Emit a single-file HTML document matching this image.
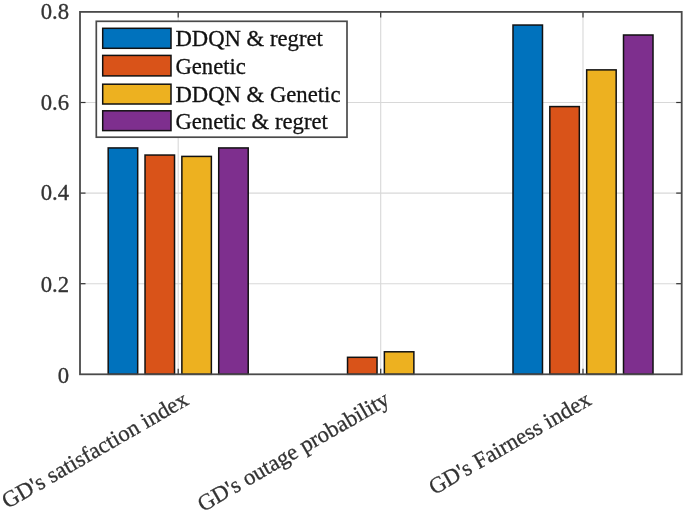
<!DOCTYPE html><html><head><meta charset="utf-8"><style>html,body{margin:0;padding:0;background:#fff}svg{display:block;filter:blur(0.55px)}text{font-family:"Liberation Serif",serif;fill:#111;stroke:#111;stroke-width:0.3px}text.t{fill:#333;stroke:#333;stroke-width:0.3px}</style></head><body>
<svg width="685" height="512" viewBox="0 0 685 512">
<rect width="685" height="512" fill="#fff"/>
<line x1="80.0" x2="681.7" y1="283.70" y2="283.70" stroke="#d8d8d8" stroke-width="1.1"/>
<line x1="80.0" x2="681.7" y1="193.10" y2="193.10" stroke="#d8d8d8" stroke-width="1.1"/>
<line x1="80.0" x2="681.7" y1="102.50" y2="102.50" stroke="#d8d8d8" stroke-width="1.1"/>
<line x1="178.2" x2="178.2" y1="11.9" y2="374.3" stroke="#d8d8d8" stroke-width="1.1"/>
<line x1="380.7" x2="380.7" y1="11.9" y2="374.3" stroke="#d8d8d8" stroke-width="1.1"/>
<line x1="583.0" x2="583.0" y1="11.9" y2="374.3" stroke="#d8d8d8" stroke-width="1.1"/>
<rect x="108.19" y="147.94" width="29.5" height="226.36" fill="#0072BD" stroke="#111" stroke-width="1.5"/>
<rect x="145.03" y="155.05" width="29.5" height="219.25" fill="#D95319" stroke="#111" stroke-width="1.5"/>
<rect x="181.87" y="156.41" width="29.5" height="217.89" fill="#EDB120" stroke="#111" stroke-width="1.5"/>
<rect x="218.71" y="147.94" width="29.5" height="226.36" fill="#7E2F8E" stroke="#111" stroke-width="1.5"/>
<rect x="347.53" y="357.31" width="29.5" height="16.99" fill="#D95319" stroke="#111" stroke-width="1.5"/>
<rect x="384.37" y="351.79" width="29.5" height="22.51" fill="#EDB120" stroke="#111" stroke-width="1.5"/>
<rect x="512.99" y="25.04" width="29.5" height="349.26" fill="#0072BD" stroke="#111" stroke-width="1.5"/>
<rect x="549.83" y="106.58" width="29.5" height="267.72" fill="#D95319" stroke="#111" stroke-width="1.5"/>
<rect x="586.67" y="69.88" width="29.5" height="304.42" fill="#EDB120" stroke="#111" stroke-width="1.5"/>
<rect x="623.51" y="35.00" width="29.5" height="339.30" fill="#7E2F8E" stroke="#111" stroke-width="1.5"/>
<line x1="178.2" x2="178.2" y1="374.3" y2="368.8" stroke="#333" stroke-width="1.2"/>
<line x1="178.2" x2="178.2" y1="11.9" y2="17.4" stroke="#333" stroke-width="1.2"/>
<line x1="380.7" x2="380.7" y1="374.3" y2="368.8" stroke="#333" stroke-width="1.2"/>
<line x1="380.7" x2="380.7" y1="11.9" y2="17.4" stroke="#333" stroke-width="1.2"/>
<line x1="583.0" x2="583.0" y1="374.3" y2="368.8" stroke="#333" stroke-width="1.2"/>
<line x1="583.0" x2="583.0" y1="11.9" y2="17.4" stroke="#333" stroke-width="1.2"/>
<line x1="80.0" x2="85.5" y1="283.70" y2="283.70" stroke="#333" stroke-width="1.2"/>
<line x1="681.7" x2="676.2" y1="283.70" y2="283.70" stroke="#333" stroke-width="1.2"/>
<line x1="80.0" x2="85.5" y1="193.10" y2="193.10" stroke="#333" stroke-width="1.2"/>
<line x1="681.7" x2="676.2" y1="193.10" y2="193.10" stroke="#333" stroke-width="1.2"/>
<line x1="80.0" x2="85.5" y1="102.50" y2="102.50" stroke="#333" stroke-width="1.2"/>
<line x1="681.7" x2="676.2" y1="102.50" y2="102.50" stroke="#333" stroke-width="1.2"/>
<rect x="80.0" y="11.9" width="601.7" height="362.40000000000003" fill="none" stroke="#4a4a4a" stroke-width="1.8"/>
<text class="t" x="69" y="382.90" font-size="22.7" text-anchor="end">0</text>
<text class="t" x="69" y="292.30" font-size="22.7" text-anchor="end">0.2</text>
<text class="t" x="69" y="200.40" font-size="22.7" text-anchor="end">0.4</text>
<text class="t" x="69" y="109.50" font-size="22.7" text-anchor="end">0.6</text>
<text class="t" x="69" y="19.00" font-size="22.7" text-anchor="end">0.8</text>
<text transform="translate(189.90,403.70) rotate(-30)" class="t" font-size="22.7" text-anchor="end">GD's satisfaction index</text>
<text transform="translate(390.90,403.70) rotate(-30)" class="t" font-size="22.7" text-anchor="end">GD's outage probability</text>
<text transform="translate(592.70,403.70) rotate(-30)" class="t" font-size="22.7" text-anchor="end">GD's Fairness index</text>
<rect x="96.3" y="21.3" width="250.7" height="115.9" fill="#fff" stroke="#4a4a4a" stroke-width="1.7"/>
<rect x="102.7" y="28.30" width="68.3" height="20.0" fill="#0072BD" stroke="#111" stroke-width="1.5"/>
<text x="175.4" y="46.20" font-size="22.7">DDQN &amp; regret</text>
<rect x="102.7" y="55.40" width="68.3" height="20.5" fill="#D95319" stroke="#111" stroke-width="1.5"/>
<text x="175.4" y="73.70" font-size="22.7">Genetic</text>
<rect x="102.7" y="84.20" width="68.3" height="19.8" fill="#EDB120" stroke="#111" stroke-width="1.5"/>
<text x="175.4" y="102.00" font-size="22.7">DDQN &amp; Genetic</text>
<rect x="102.7" y="110.80" width="68.3" height="19.8" fill="#7E2F8E" stroke="#111" stroke-width="1.5"/>
<text x="175.4" y="128.60" font-size="22.7">Genetic &amp; regret</text>
</svg></body></html>
